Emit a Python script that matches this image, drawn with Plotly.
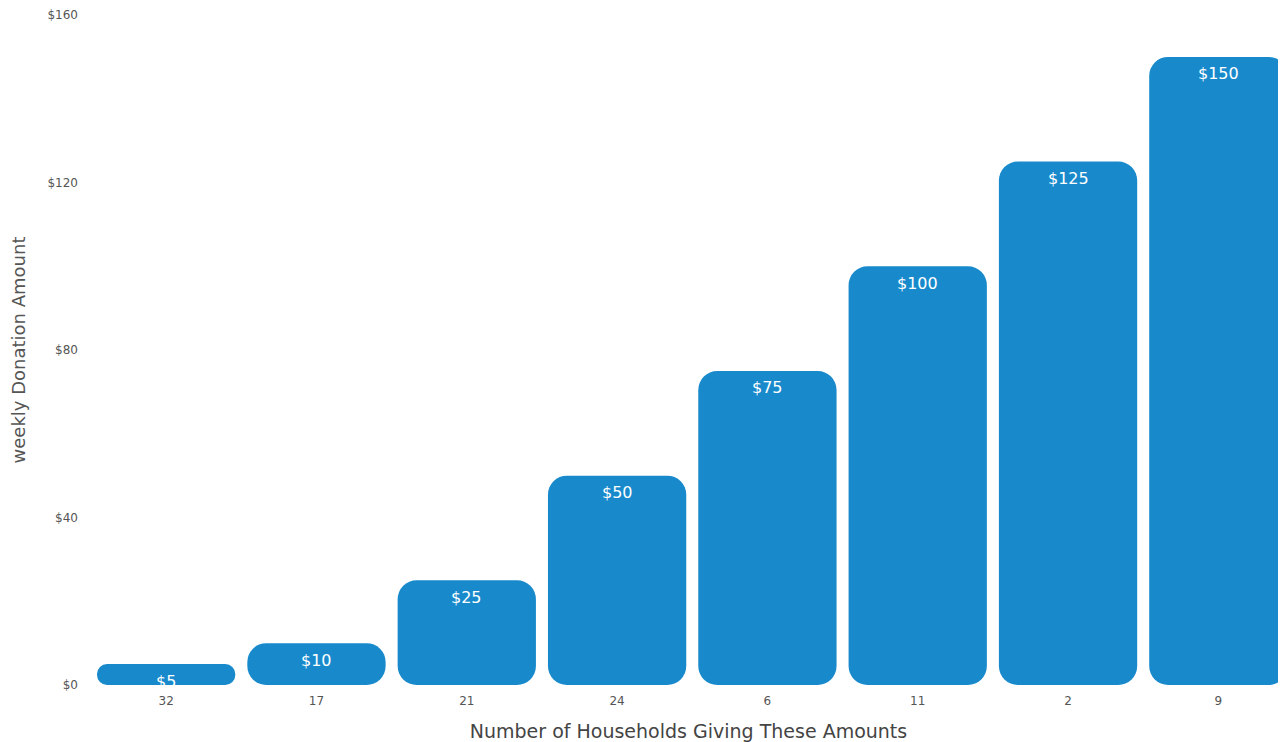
import plotly.graph_objects as go

households = ["32", "17", "21", "24", "6", "11", "2", "9"]
amounts = [5, 10, 25, 50, 75, 100, 125, 150]
amount_labels = ["$5", "$10", "$25", "$50", "$75", "$100", "$125", "$150"]
y_ticks = [0, 40, 80, 120, 160]
y_tick_labels = ["$0", "$40", "$80", "$120", "$160"]

BLUE = "rgb(24,138,204)"
FONT = "DejaVu Sans, Liberation Sans, Arial, sans-serif"

fig = go.Figure()
fig.add_trace(go.Bar(x=households, y=amounts, base=[0] * len(amounts), width=0.92,
                     marker=dict(color=BLUE, line=dict(width=0), cornerradius=19),
                     hoverinfo="skip", showlegend=False))

for i, (a, lab) in enumerate(zip(amounts, amount_labels)):
    fig.add_annotation(x=i, y=a, xref="x", yref="y", text=lab, showarrow=False,
                       yanchor="middle", yshift=-17,
                       font=dict(color="white", size=16, family=FONT))

fig.update_layout(
    width=1278, height=734,
    paper_bgcolor="white", plot_bgcolor="white",
    margin=dict(l=83, r=0, t=7, b=57),
    font=dict(family=FONT, color="#555555"),
    xaxis=dict(type="category", range=[-0.5, 7.45], showgrid=False, zeroline=False,
               showline=False, ticks="", tickfont=dict(size=12, color="#555555"),
               ticklabelstandoff=7,
               title=dict(text="Number of Households Giving These Amounts",
                          font=dict(size=19, color="#444444"), standoff=19)),
    yaxis=dict(range=[0, 160], tickvals=y_ticks, ticktext=y_tick_labels,
               showgrid=False, zeroline=False, showline=False, ticks="",
               tickfont=dict(size=12, color="#555555"), ticklabelstandoff=12,
               ticklabeloverflow="allow",
               title=dict(text="weekly Donation Amount",
                          font=dict(size=18, color="#555555"), standoff=22)),
)

fig.write_html("out.html")
